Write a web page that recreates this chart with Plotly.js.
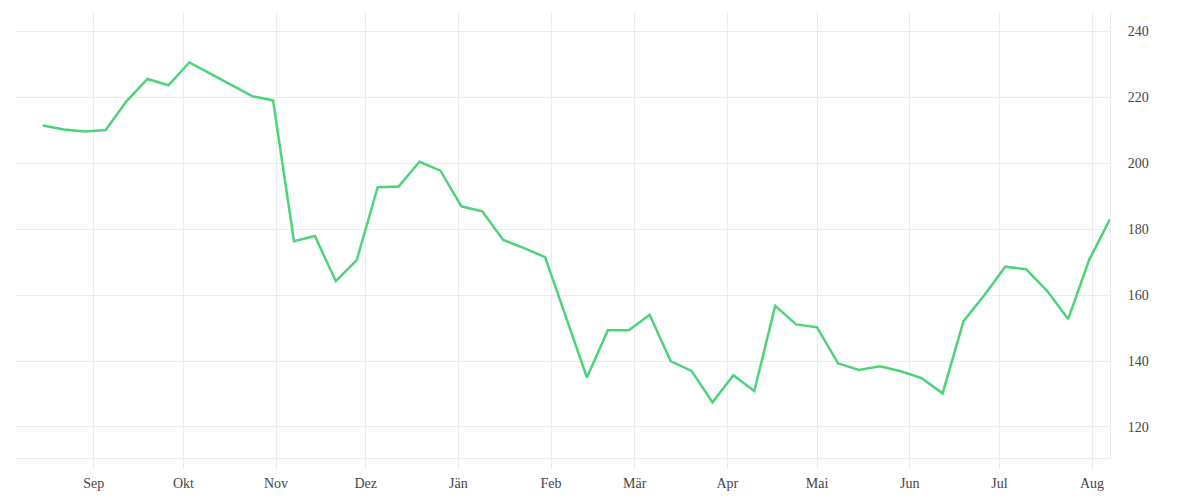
<!DOCTYPE html>
<html>
<head>
<meta charset="utf-8">
<script src="https://cdn.plot.ly/plotly-3.0.1.min.js"></script>
<style>html,body{margin:0;padding:0;background:#fff;}#chart{width:1200px;height:500px;}</style>
</head>
<body>
<div id="chart"></div>
<script>
const dates = [
  '2022-08-15','2022-08-22','2022-08-29','2022-09-05','2022-09-12','2022-09-19','2022-09-26',
  '2022-10-03','2022-10-10','2022-10-17','2022-10-24','2022-10-31','2022-11-07','2022-11-14',
  '2022-11-21','2022-11-28','2022-12-05','2022-12-12','2022-12-19','2022-12-26','2023-01-02',
  '2023-01-09','2023-01-16','2023-01-23','2023-01-30','2023-02-06','2023-02-13','2023-02-20',
  '2023-02-27','2023-03-06','2023-03-13','2023-03-20','2023-03-27','2023-04-03','2023-04-10',
  '2023-04-17','2023-04-24','2023-05-01','2023-05-08','2023-05-15','2023-05-22','2023-05-29',
  '2023-06-05','2023-06-12','2023-06-19','2023-06-26','2023-07-03','2023-07-10','2023-07-17',
  '2023-07-24','2023-07-31','2023-08-07'
];
const values = [
  211.4, 210.2, 209.6, 210.0, 218.8, 225.5, 223.6,
  230.5, 227.1, 223.8, 220.3, 219.0, 176.3, 177.9,
  164.2, 170.6, 192.7, 192.9, 200.4, 197.7, 186.9,
  185.4, 176.7, 174.2, 171.5, 153.3, 135.0, 149.3,
  149.3, 154.0, 140.0, 137.0, 127.5, 135.7, 130.9,
  156.7, 151.1, 150.2, 139.3, 137.3, 138.4, 136.9,
  134.8, 130.2, 152.1, 160.0, 168.6, 167.8, 161.2,
  152.7, 170.6, 183.0
];
const monthTicks = ['2022-09-01','2022-10-01','2022-11-01','2022-12-01','2023-01-01','2023-02-01',
  '2023-03-01','2023-04-01','2023-05-01','2023-06-01','2023-07-01','2023-08-01'];
const monthLabels = ['Sep','Okt','Nov','Dez','Jän','Feb','Mär','Apr','Mai','Jun','Jul','Aug'];
const yTicks = [120, 140, 160, 180, 200, 220, 240];

const grid = '#ececec';
const fontFam = 'Liberation Serif, DejaVu Serif, serif';

Plotly.newPlot('chart', [{
  x: dates,
  y: values,
  type: 'scatter',
  mode: 'lines',
  line: {color: '#4cd47b', width: 2.5},
  hoverinfo: 'skip'
}], {
  width: 1200,
  height: 500,
  margin: {l: 15, r: 90, t: 12, b: 42},
  paper_bgcolor: '#fff',
  plot_bgcolor: '#fff',
  showlegend: false,
  font: {family: fontFam, size: 14, color: '#444'},
  xaxis: {
    type: 'date',
    range: ['2022-08-05 16:00', '2023-08-07'],
    tickmode: 'array',
    tickvals: monthTicks,
    ticktext: monthLabels,
    showgrid: true,
    gridcolor: grid,
    gridwidth: 1,
    showline: true,
    linecolor: grid,
    linewidth: 1,
    ticks: 'outside',
    ticklen: 10,
    tickcolor: grid,
    ticklabelstandoff: 2,
    tickfont: {family: fontFam, size: 14, color: '#444'},
    zeroline: false,
    fixedrange: true
  },
  yaxis: {
    side: 'right',
    range: [110.6, 245.8],
    tickmode: 'array',
    tickvals: yTicks,
    showgrid: true,
    gridcolor: grid,
    gridwidth: 1,
    showline: true,
    linecolor: grid,
    linewidth: 1,
    ticks: '',
    ticklabelstandoff: 14,
    tickfont: {family: fontFam, size: 14, color: '#444'},
    zeroline: false,
    fixedrange: true
  }
}, {displayModeBar: false, staticPlot: true});
</script>
</body>
</html>
